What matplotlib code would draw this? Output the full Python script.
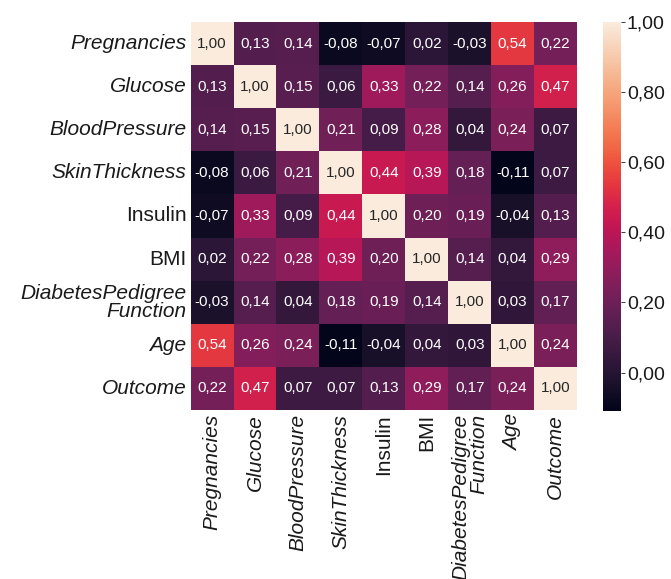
import matplotlib as mpl
import matplotlib.pyplot as plt
import numpy as np
import seaborn as sns
from matplotlib.ticker import FuncFormatter


features = [
    "Pregnancies", "Glucose", "BloodPressure", "SkinThickness", "Insulin",
    "BMI", "DiabetesPedigree\nFunction", "Age", "Outcome",
]
upright = ["Insulin", "BMI"]

corr = np.array([
    [1.00, 0.13, 0.14, -0.08, -0.07, 0.02, -0.03, 0.54, 0.22],
    [0.13, 1.00, 0.15, 0.06, 0.33, 0.22, 0.14, 0.26, 0.47],
    [0.14, 0.15, 1.00, 0.21, 0.09, 0.28, 0.04, 0.24, 0.07],
    [-0.08, 0.06, 0.21, 1.00, 0.44, 0.39, 0.18, -0.11, 0.07],
    [-0.07, 0.33, 0.09, 0.44, 1.00, 0.20, 0.19, -0.04, 0.13],
    [0.02, 0.22, 0.28, 0.39, 0.20, 1.00, 0.14, 0.04, 0.29],
    [-0.03, 0.14, 0.04, 0.18, 0.19, 0.14, 1.00, 0.03, 0.17],
    [0.54, 0.26, 0.24, -0.11, -0.04, 0.04, 0.03, 1.00, 0.24],
    [0.22, 0.47, 0.07, 0.07, 0.13, 0.29, 0.17, 0.24, 1.00],
])
cbar_ticks = [0.0, 0.2, 0.4, 0.6, 0.8, 1.0]


def comma(v, pos=None):
    return f"{v:.2f}".replace(".", ",")


mpl.rcParams["font.family"] = ["Liberation Sans", "DejaVu Sans"]

fig = plt.figure(figsize=(6.71, 5.79), dpi=100)
ax = fig.add_axes([0.284, 0.292, 0.576, 0.670])
cax = fig.add_axes([0.898, 0.290, 0.028, 0.672])

labels = np.vectorize(comma)(corr)
sns.heatmap(
    corr, ax=ax, cbar_ax=cax, cmap="rocket", annot=labels, fmt="",
    annot_kws={"fontsize": 11},
    xticklabels=features, yticklabels=features,
)

ax.tick_params(axis="both", length=0, pad=3)
ax.set_xticklabels(features, rotation=90, fontsize=15, ha="center", va="top",
                   multialignment="right", linespacing=0.95)
ax.set_yticklabels(features, rotation=0, fontsize=15, ha="right", va="center",
                   multialignment="right", linespacing=0.95)
for lab in ax.get_xticklabels() + ax.get_yticklabels():
    if lab.get_text() not in upright:
        lab.set_fontstyle("italic")
    lab.set_color("#1a1a1a")

cax.set_yticks(cbar_ticks)
cax.yaxis.set_major_formatter(FuncFormatter(comma))
cax.tick_params(labelsize=14, length=3, width=0.6, pad=1, colors="#1a1a1a")
cax.set_frame_on(False)

fig.savefig("out.png", dpi=100)
